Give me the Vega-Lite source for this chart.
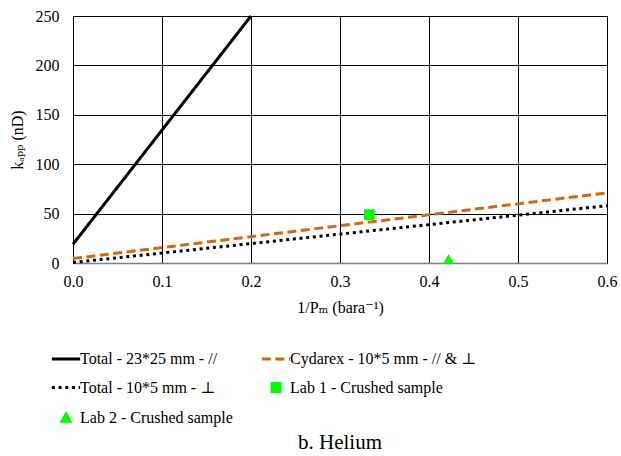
{
  "$schema": "https://vega.github.io/schema/vega-lite/v6.json",
  "autosize": "none",
  "width": 534,
  "height": 247,
  "padding": {"left": 73, "top": 16, "right": 14, "bottom": 193},
  "background": "white",
  "title": {"text": "b. Helium", "orient": "bottom", "anchor": "middle", "font": "Liberation Serif, Times New Roman, DejaVu Serif, serif", "fontSize": 21, "fontWeight": "normal", "color": "black", "offset": 4},
  "config": {
    "font": "Liberation Serif, Times New Roman, DejaVu Serif, serif",
    "view": {"stroke": "black", "strokeWidth": 1},
    "axis": {"labelFont": "Liberation Serif, Times New Roman, DejaVu Serif, serif", "titleFont": "Liberation Serif, Times New Roman, DejaVu Serif, serif", "labelFontSize": 16, "titleFontSize": 16, "labelColor": "black", "titleColor": "black", "titleFontWeight": "normal", "gridColor": "black", "gridOpacity": 1, "gridWidth": 1, "ticks": false},
    "legend": {"labelFont": "Liberation Serif, Times New Roman, DejaVu Serif, serif", "labelFontSize": 16, "labelColor": "black", "labelLimit": 400, "symbolStrokeWidth": 3, "symbolOpacity": 1}
  },
  "data": {"values": [
    {"series": "Total - 23*25 mm -  //", "x": 0, "y": 19},
    {"series": "Total - 23*25 mm -  //", "x": 0.2, "y": 250},
    {"series": "Cydarex - 10*5 mm -  // & ⊥", "x": 0, "y": 4.5},
    {"series": "Cydarex - 10*5 mm -  // & ⊥", "x": 0.6, "y": 71},
    {"series": "Total - 10*5 mm - ⊥", "x": 0, "y": 0.5},
    {"series": "Total - 10*5 mm - ⊥", "x": 0.6, "y": 58},
    {"series": "Lab 1 - Crushed sample", "x": 0.333, "y": 49},
    {"series": "Lab 2 - Crushed sample", "x": 0.422, "y": 4}
  ]},
  "encoding": {
    "x": {"field": "x", "type": "quantitative", "scale": {"domain": [0, 0.6], "nice": false, "zero": false},
      "axis": {"title": "1/Pₘ (bara⁻¹)", "values": [0, 0.1, 0.2, 0.3, 0.4, 0.5, 0.6], "format": ".1f", "labelPadding": 10, "titlePadding": 10, "domainColor": "#808080", "domainWidth": 1.5, "labelFlush": false}},
    "y": {"field": "y", "type": "quantitative", "scale": {"domain": [0, 250], "nice": false},
      "axis": {"title": "kₐₚₚ (nD)", "values": [0, 50, 100, 150, 200, 250], "labelPadding": 14, "titlePadding": 10, "domain": false, "labelFlush": false}},
    "color": {"field": "series", "type": "nominal",
      "scale": {"domain": ["Total - 23*25 mm -  //", "Cydarex - 10*5 mm -  // & ⊥", "Total - 10*5 mm - ⊥", "Lab 1 - Crushed sample", "Lab 2 - Crushed sample"],
                "range": ["#000000", "#d2690e", "#000000", "#00ff00", "#00ff00"]},
      "legend": {"title": null, "orient": "none", "legendX": -23, "legendY": 327, "columns": 2, "direction": "horizontal", "columnPadding": 22, "rowPadding": 4.5, "symbolSize": 800, "labelOffset": -2}
    }
  },
  "layer": [
    {"transform": [{"filter": "indexof(datum.series, 'Lab') < 0"}], "mark": {"type": "line", "strokeWidth": 3},
     "encoding": {
       "strokeDash": {"field": "series", "type": "nominal",
         "scale": {"domain": ["Total - 23*25 mm -  //", "Cydarex - 10*5 mm -  // & ⊥", "Total - 10*5 mm - ⊥", "Lab 1 - Crushed sample", "Lab 2 - Crushed sample"],
                   "range": [[1, 0], [9, 4.5], [3, 3.7], [1, 0], [1, 0]]},
         "legend": {"title": null}}
     }},
    {"transform": [{"filter": "indexof(datum.series, 'Lab') >= 0"}], "mark": {"type": "point", "filled": true, "size": 1460, "opacity": 1},
     "encoding": {
       "shape": {"field": "series", "type": "nominal",
         "scale": {"domain": ["Total - 23*25 mm -  //", "Cydarex - 10*5 mm -  // & ⊥", "Total - 10*5 mm - ⊥", "Lab 1 - Crushed sample", "Lab 2 - Crushed sample"],
                   "range": ["stroke", "stroke", "stroke", "M-0.28,-0.28H0.28V0.28H-0.28Z", "M0,-0.27L0.28,0.23L-0.28,0.23Z"]},
         "legend": {"title": null}}
     }}
  ]
}
